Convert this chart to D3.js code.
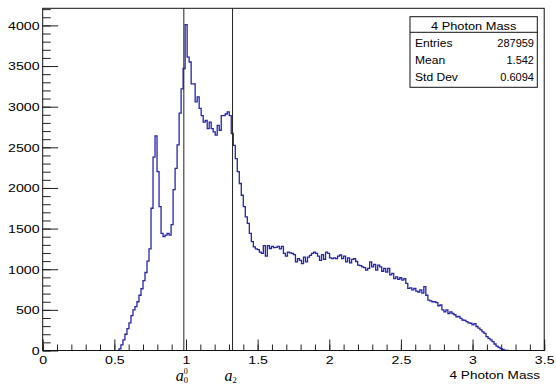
<!DOCTYPE html>
<html>
<head>
<meta charset="utf-8">
<script src="https://cdn.jsdelivr.net/npm/d3@7"></script>
<style>
  body { margin: 0; background: #fff; }
  svg { display: block; font-family: "Liberation Sans", Arial, sans-serif; }
</style>
</head>
<body>
<div id="chart"></div>
<script>
// histogram: 250 bins over 0..3.5, only the filled range is listed
const binWidth = 0.014;
const firstBin = 38;
const counts = [
  20, 70, 130, 200, 270, 340, 430, 500, 540, 600,
  680, 760, 860, 960, 1100, 1250, 1750, 2380, 2640, 2200,
  1770, 1440, 1400, 1420, 1440, 1420, 1550, 1980, 2240, 2530,
  2920, 3220, 3470, 4010, 3610, 3550, 3280, 3280, 3060, 3120,
  2980, 2890, 2810, 2830, 2730, 2810, 2730, 2690, 2650, 2770,
  2710, 2890, 2890, 2910, 2935, 2890, 2670, 2525, 2360, 2200,
  2055, 1910, 1770, 1645, 1565, 1440, 1340, 1275, 1250, 1240,
  1210, 1195, 1290, 1160, 1290, 1255, 1280, 1265, 1270, 1280,
  1250, 1280, 1195, 1160, 1210, 1200, 1195, 1180, 1090, 1130,
  1110, 1070, 1150, 1090, 1150, 1170, 1195, 1210, 1195, 1160,
  1110, 1180, 1120, 1210, 1195, 1140, 1130, 1140, 1130, 1160,
  1175, 1130, 1160, 1090, 1140, 1080, 1120, 1130, 1095, 1050,
  1045, 1030, 1020, 990, 1010, 1090, 1030, 1060, 990, 1050,
  1030, 975, 1010, 965, 1010, 930, 950, 885, 905, 875,
  895, 865, 885, 825, 765, 770, 745, 765, 730, 720,
  745, 705, 785, 680, 620, 610, 600, 600, 590, 550,
  560, 500, 475, 500, 455, 475, 455, 440, 415, 420,
  395, 375, 370, 355, 340, 335, 315, 330, 295, 275,
  255, 230, 210, 170, 150, 130, 108, 80, 55, 38,
  22, 14, 5, 2
];

const xTicks = [0, 0.5, 1, 1.5, 2, 2.5, 3, 3.5];
const yTicks = [0, 500, 1000, 1500, 2000, 2500, 3000, 3500, 4000];
const xTitle = "4 Photon Mass";

const markerMass = [0.985, 1.325];
const markerSub = ["0", "2"];
const markerSup = ["0", ""];

const statsTitle = "4 Photon Mass";
const statsNames = ["Entries", "Mean", "Std Dev"];
const statsValues = ["287959", "1.542", "0.6094"];

const width = 556, height = 385;
const fLeft = 42.7, fRight = 544.2, fTop = 8.3, fBottom = 350.5;
const SX = 1.2; // the source text is a bit wider than Helvetica

const svg = d3.select("#chart").append("svg")
  .attr("width", width)
  .attr("height", height);

const x = d3.scaleLinear().domain([0, 3.5]).range([fLeft, fRight]);
const y = d3.scaleLinear().domain([0, d3.max(counts) * 1.05]).range([fBottom, fTop]);

// histogram outline
const pts = [[firstBin * binWidth, 0]];
counts.forEach((c, i) => pts.push([(firstBin + i) * binWidth, c]));
pts.push([(firstBin + counts.length) * binWidth, 0]);

const line = d3.line()
  .x(d => x(d[0]))
  .y(d => y(d[1]))
  .curve(d3.curveStepAfter);

svg.append("path")
  .datum(pts)
  .attr("d", line)
  .attr("fill", "none")
  .attr("stroke", "#2626a6")
  .attr("stroke-width", 1.3);

// axes, ticks pointing into the frame
const yMinor = d3.range(0, 4201, 100);
const xMinor = d3.range(0, 3.501, 0.1);

svg.append("g")
  .attr("transform", `translate(${fLeft},0)`)
  .call(d3.axisLeft(y).tickValues(yMinor).tickSize(-8).tickFormat(""))
  .call(g => g.select(".domain").remove());

svg.append("g")
  .attr("transform", `translate(${fLeft},0)`)
  .call(d3.axisLeft(y).tickValues(yTicks).tickSize(-15.5).tickPadding(2.6).tickFormat(d3.format("d")))
  .call(g => g.select(".domain").remove())
  .call(g => g.selectAll("text")
    .attr("transform", `scale(${SX},1)`)
    .style("font-size", "11.8px")
    .attr("fill", "#000"));

svg.append("g")
  .attr("transform", `translate(0,${fBottom})`)
  .call(d3.axisBottom(x).tickValues(xMinor).tickSize(-6).tickFormat(""))
  .call(g => g.select(".domain").remove());

svg.append("g")
  .attr("transform", `translate(0,${fBottom})`)
  .call(d3.axisBottom(x).tickValues(xTicks).tickSize(-11).tickPadding(5).tickFormat(d3.format("")))
  .call(g => g.select(".domain").remove())
  .call(g => g.selectAll("text")
    .attr("transform", `scale(${SX},1)`)
    .style("font-size", "11.8px")
    .attr("fill", "#000"));

svg.selectAll(".tick line").attr("stroke", "#222");

// frame
svg.append("rect")
  .attr("x", fLeft).attr("y", fTop)
  .attr("width", fRight - fLeft).attr("height", fBottom - fTop)
  .attr("fill", "none")
  .attr("stroke", "#111")
  .attr("stroke-width", 1);

// resonance markers
svg.selectAll(".marker")
  .data(markerMass)
  .join("line")
  .attr("class", "marker")
  .attr("x1", d => x(d)).attr("x2", d => x(d))
  .attr("y1", fTop).attr("y2", fBottom)
  .attr("stroke", "#222")
  .attr("stroke-width", 1);

// a_0^0 / a_2 labels, one text each with sup/sub tspans
const lbl = svg.selectAll(".mlabel")
  .data(markerMass)
  .join("text")
  .attr("class", "mlabel")
  .attr("transform", d => `translate(${x(d) - 8},381)`)
  .style("font-family", "'Liberation Serif', 'DejaVu Serif', serif");

lbl.append("tspan")
  .attr("x", 0).attr("y", 0)
  .style("font-style", "italic")
  .style("font-size", "16px")
  .text("a");

lbl.append("tspan")
  .attr("x", 8).attr("y", -7.4)
  .style("font-size", "8px")
  .text((d, i) => markerSup[i]);

lbl.append("tspan")
  .attr("x", 8).attr("y", 2)
  .style("font-size", "8.5px")
  .text((d, i) => markerSub[i]);

// axis title
svg.append("text")
  .attr("transform", `translate(540,379) scale(1.15,1)`)
  .attr("text-anchor", "end")
  .style("font-size", "11.8px")
  .text(xTitle);

// stats box
const bx0 = 410, bx1 = 537.3, by0 = 16.7, by1 = 87.3, hdr = 32.3;
const stats = svg.append("g");
stats.append("rect")
  .attr("x", bx0).attr("y", by0)
  .attr("width", bx1 - bx0).attr("height", by1 - by0)
  .attr("fill", "#fff")
  .attr("stroke", "#111");
stats.append("line")
  .attr("x1", bx0).attr("x2", bx1)
  .attr("y1", hdr).attr("y2", hdr)
  .attr("stroke", "#111");
stats.append("text")
  .attr("transform", `translate(${(bx0 + bx1) / 2},29.5) scale(1.22,1)`)
  .attr("text-anchor", "middle")
  .style("font-size", "10.5px")
  .text(statsTitle);

statsNames.forEach((n, i) => {
  const yy = 47 + i * 17.2;
  stats.append("text")
    .attr("transform", `translate(415,${yy}) scale(1.15,1)`)
    .style("font-size", "10.5px")
    .text(n);
  stats.append("text")
    .attr("transform", `translate(534,${yy}) scale(1.05,1)`)
    .attr("text-anchor", "end")
    .style("font-size", "10.5px")
    .text(statsValues[i]);
});
</script>
</body>
</html>
